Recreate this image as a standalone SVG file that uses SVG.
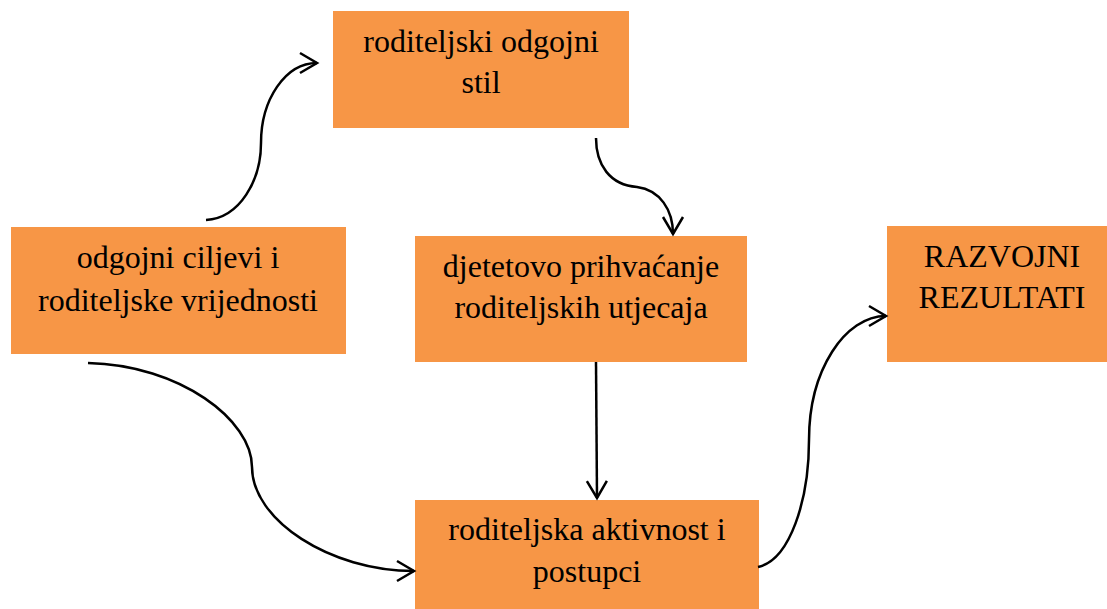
<svg xmlns="http://www.w3.org/2000/svg" width="1107" height="609" viewBox="0 0 1107 609">
<style>
.box{fill:#F79646;}
.lbl{font-family:"Liberation Serif","Times New Roman",serif;font-size:32px;fill:#000;text-anchor:middle;}
.con{fill:none;stroke:#000;stroke-width:2.5;}
</style>
<defs>
<marker id="arr" markerUnits="userSpaceOnUse" markerWidth="30" markerHeight="30" viewBox="-20 -15 24 30" refX="0" refY="0" orient="auto">
<path d="M-17,-10 L0,0 L-17,10" fill="none" stroke="#000" stroke-width="2.5"/>
</marker>
</defs>
<rect width="1107" height="609" fill="#fff"/>
<g id="n1">
<rect class="box" x="333" y="11" width="296" height="117"/>
<text class="lbl" x="481" y="52">roditeljski odgojni</text>
<text class="lbl" x="481" y="93">stil</text>
</g>
<g id="n2">
<rect class="box" x="11" y="227" width="335" height="127"/>
<text class="lbl" x="178" y="268">odgojni ciljevi i</text>
<text class="lbl" x="178" y="311">roditeljske vrijednosti</text>
</g>
<g id="n3">
<rect class="box" x="415" y="236" width="332" height="126"/>
<text class="lbl" x="581" y="277">djetetovo prihvaćanje</text>
<text class="lbl" x="581" y="318">roditeljskih utjecaja</text>
</g>
<g id="n4">
<rect class="box" x="887" y="226" width="220" height="136"/>
<text class="lbl" x="1002" y="267">RAZVOJNI</text>
<text class="lbl" x="1002" y="308">REZULTATI</text>
</g>
<g id="n5">
<rect class="box" x="415" y="500" width="344" height="109"/>
<text class="lbl" x="587" y="540">roditeljska aktivnost i</text>
<text class="lbl" x="587" y="582">postupci</text>
</g>
<g id="connectors">
<path class="con" marker-end="url(#arr)" d="M206,220 C240,218 261,180 261,143 C261,100 285,63 317,63"/>
<path class="con" marker-end="url(#arr)" d="M596,138 C596,165 610,185 637,187 C660,190 673,210 673,234"/>
<path class="con" marker-end="url(#arr)" d="M596,362 L597,498"/>
<path class="con" marker-end="url(#arr)" d="M758,567 C790,560 809,500 809,440 C809,370 845,316 886,316"/>
<path class="con" marker-end="url(#arr)" d="M88,363 C180,365 252,420 252,467 C252,520 330,571 414,571"/>
</g>
</svg>
